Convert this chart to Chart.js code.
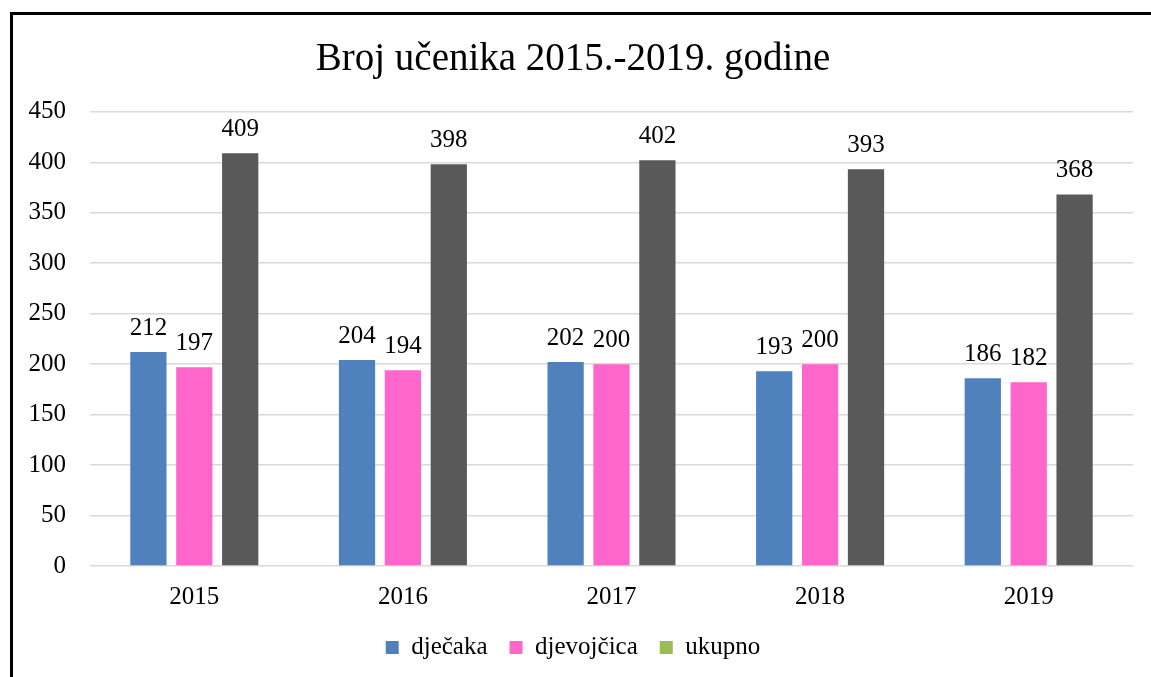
<!DOCTYPE html>
<html>
<head>
<meta charset="utf-8">
<script src="https://cdn.jsdelivr.net/npm/chart.js@4"></script>
<style>
    html, body { margin: 0; padding: 0; overflow: hidden; background: #fff; }
    #frame {
        position: absolute;
        left: 10px;
        top: 12px;
        width: 1180px;
        height: 720px;
        border: 3px solid #000;
    }
    #chart { position: absolute; left: 0; top: 0; }
</style>
</head>
<body>
<div id="frame">
    <canvas id="chart" width="1152" height="662"></canvas>
</div>
<script>
// Broj učenika po godinama
const years = ['2015', '2016', '2017', '2018', '2019'];
const boys = [212, 204, 202, 193, 186];
const girls = [197, 194, 200, 200, 182];
const total = [409, 398, 402, 393, 368];
const yTicks = [0, 50, 100, 150, 200, 250, 300, 350, 400, 450];

const FONT = "'Liberation Serif', 'Times New Roman', serif";

// legend colour for "ukupno" is green in the original, bars are gray
const legendColors = ['#4F81BD', '#FF66CC', '#9BBB59'];

const barLabels = {
    id: 'barLabels',
    afterDatasetsDraw(chart) {
        const ctx = chart.ctx;
        ctx.save();
        ctx.font = `25px ${FONT}`;
        ctx.fillStyle = '#000';
        ctx.textAlign = 'center';
        ctx.textBaseline = 'middle';
        chart.data.datasets.forEach((ds, di) => {
            const meta = chart.getDatasetMeta(di);
            meta.data.forEach((bar, i) => {
                ctx.fillText(ds.data[i], bar.x, bar.y - 24);
            });
        });
        ctx.restore();
    }
};

new Chart(document.getElementById('chart'), {
    type: 'bar',
    data: {
        labels: years,
        datasets: [
            { label: 'dječaka', data: boys, backgroundColor: '#4F81BD' },
            { label: 'djevojčica', data: girls, backgroundColor: '#FF66CC' },
            { label: 'ukupno', data: total, backgroundColor: '#595959' }
        ]
    },
    options: {
        responsive: false,
        animation: false,
        datasets: {
            bar: { categoryPercentage: 0.66, barPercentage: 0.79 }
        },
        layout: { padding: { left: 0, right: 32, top: 0, bottom: 7 } },
        plugins: {
            title: {
                display: true,
                text: 'Broj učenika 2015.-2019. godine',
                color: '#000',
                font: { family: FONT, size: 39, weight: 'normal' },
                padding: { top: 21, bottom: 29 }
            },
            legend: {
                position: 'bottom',
                labels: {
                    font: { family: FONT, size: 25 },
                    color: '#000',
                    boxWidth: 13,
                    boxHeight: 13,
                    padding: 22,
                    generateLabels: chart => chart.data.datasets.map((ds, i) => ({
                        text: ds.label,
                        fillStyle: legendColors[i],
                        strokeStyle: legendColors[i],
                        lineWidth: 0,
                        datasetIndex: i
                    }))
                }
            },
            tooltip: { enabled: false }
        },
        scales: {
            x: {
                grid: { display: false },
                border: { display: false },
                ticks: { color: '#000', font: { family: FONT, size: 25 }, padding: 8 },
                afterFit: s => { s.height = 47; }
            },
            y: {
                min: 0,
                max: 450,
                afterBuildTicks: s => { s.ticks = yTicks.map(v => ({ value: v })); },
                grid: { color: '#d9d9d9', lineWidth: 1.5, drawTicks: false },
                border: { display: false },
                ticks: { color: '#000', font: { family: FONT, size: 25 }, padding: 24 },
                afterFit: s => { s.width = 77; }
            }
        }
    },
    plugins: [barLabels]
});
</script>
</body>
</html>
